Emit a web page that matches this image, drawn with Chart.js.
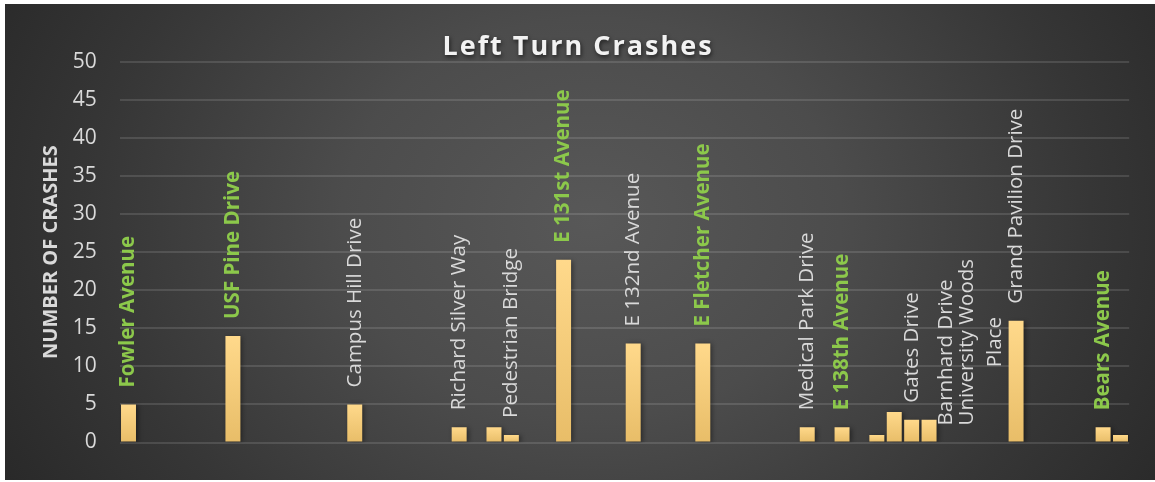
<!DOCTYPE html>
<html>
<head>
<meta charset="utf-8">
<script src="https://cdn.jsdelivr.net/npm/chart.js@4.4.1/dist/chart.umd.min.js"></script>
<style>
  html, body { margin: 0; padding: 0; background: #ffffff; }
  #box {
    position: absolute; left: 5px; top: 4px; width: 1150px; height: 476px;
    background: radial-gradient(ellipse 62% 120% at 51% 45%, #585858 0%, #4c4c4c 35%, #363636 70%, #262626 100%);
  }
</style>
</head>
<body>
<div id="box"><canvas id="bar-chart" width="1150" height="476"></canvas></div>
<script>
// one slot per position on the axis, "" / null where nothing is drawn
var calles = [
  "Fowler Avenue", "", "", "", "", "",
  "USF Pine Drive", "", "", "", "", "", "",
  "Campus Hill Drive", "", "", "", "", "",
  "Richard Silver Way", "", "", "Pedestrian Bridge", "", "",
  "E 131st Avenue", "", "", "",
  "E 132nd Avenue", "", "", "",
  "E Fletcher Avenue", "", "", "", "", "",
  "Medical Park Drive", "", "E 138th Avenue", "", "", "", "Gates Drive", "",
  "Barnhard Drive", "", ["University Woods", "Place"], "",
  "Grand Pavilion Drive", "", "", "", "",
  "Bears Avenue", ""
];
var choques = [
  5, null, null, null, null, null,
  14, null, null, null, null, null, null,
  5, null, null, null, null, null,
  2, null, 2, 1, null, null,
  24, null, null, null,
  13, null, null, null,
  13, null, null, null, null, null,
  2, null, 2, null, 1, 4, 3, 3,
  0, null, 0, null,
  16, null, null, null, null,
  2, 1
];
var destacadas = ["Fowler Avenue", "USF Pine Drive", "E 131st Avenue",
  "E Fletcher Avenue", "E 138th Avenue", "Bears Avenue"];
var titulo = "Left Turn Crashes";
var tituloEje = "NUMBER OF CRASHES";

var verde = "#8cc84b";
var gris = "#d9d9d9";

var tituloPlugin = {
  id: "tituloPlugin",
  afterDraw: function (chart) {
    var c = chart.ctx;
    c.save();
    c.font = "bold 27px 'Open Sans'";
    c.letterSpacing = "2px";
    c.fillStyle = "#f2f2f2";
    c.textAlign = "center";
    c.textBaseline = "alphabetic";
    c.shadowColor = "rgba(0,0,0,0.6)";
    c.shadowBlur = 4;
    c.shadowOffsetX = 1;
    c.shadowOffsetY = 2;
    c.fillText(titulo, 573, 51);
    c.restore();
  }
};

var sombraPlugin = {
  id: "sombraPlugin",
  beforeDatasetDraw: function (chart) {
    var c = chart.ctx;
    c.save();
    c.shadowColor = "rgba(0,0,0,0.45)";
    c.shadowBlur = 5;
    c.shadowOffsetX = 2;
    c.shadowOffsetY = 1;
  },
  afterDatasetDraw: function (chart) {
    chart.ctx.restore();
  }
};

var etiquetasPlugin = {
  id: "etiquetasPlugin",
  afterDatasetsDraw: function (chart) {
    var c = chart.ctx;
    var meta = chart.getDatasetMeta(0);
    calles.forEach(function (nombre, i) {
      if (!nombre || nombre.length === 0 || choques[i] === null) return;
      var barra = meta.data[i];
      var lineas = Array.isArray(nombre) ? nombre : [nombre];
      var plano = lineas.join(" ");
      var resaltar = destacadas.indexOf(plano) >= 0;
      c.save();
      c.font = (resaltar ? "bold " : "") + "20.5px 'Open Sans'";
      c.fillStyle = resaltar ? verde : gris;
      c.textAlign = "center";
      c.textBaseline = "middle";
      var ancho = 0;
      lineas.forEach(function (l) { ancho = Math.max(ancho, c.measureText(l).width); });
      c.translate(barra.x, barra.y - 17);
      c.rotate(-Math.PI / 2);
      lineas.forEach(function (l, j) {
        c.fillText(l, ancho / 2, (j - (lineas.length - 1) / 2) * 28);
      });
      c.restore();
    });
  }
};

var ctx = document.getElementById("bar-chart");
var myBarChart = new Chart(ctx, {
  type: "bar",
  data: {
    labels: calles.map(function (n, i) { return "c" + i; }),
    datasets: [
      {
        label: "Left turn crashes",
        data: choques,
        barPercentage: 0.86,
        categoryPercentage: 1.0,
        backgroundColor: function (context) {
          var chart = context.chart;
          if (!chart.chartArea || context.raw === null || context.raw === undefined) return "#f5cd7a";
          var y = chart.scales.y;
          var g = chart.ctx.createLinearGradient(0, y.getPixelForValue(context.raw), 0, y.getPixelForValue(0));
          g.addColorStop(0, "#ffd98b");
          g.addColorStop(1, "#e8bd68");
          return g;
        },
        borderWidth: 0
      }
    ]
  },
  options: {
    responsive: false,
    animation: false,
    layout: { padding: { left: 0, right: 25.8, top: 57.7, bottom: 37.5 } },
    plugins: {
      legend: { display: false },
      tooltip: { enabled: false },
      title: { display: false }
    },
    scales: {
      x: {
        ticks: { display: false },
        grid: { display: false },
        border: { display: false },
        afterFit: function (s) { s.height = 0; }
      },
      y: {
        min: 0,
        max: 50,
        ticks: {
          stepSize: 5,
          color: gris,
          padding: 23,
          font: { family: "'Open Sans'", size: 21 }
        },
        grid: { color: "rgba(255,255,255,0.12)", lineWidth: 2, drawTicks: false },
        border: { display: false },
        title: {
          display: true,
          text: tituloEje,
          color: gris,
          font: { family: "'Open Sans'", size: 20, weight: "bold" },
          padding: { top: 34, bottom: 0 }
        },
        afterFit: function (s) { s.width = 114.8; }
      }
    }
  },
  plugins: [sombraPlugin, etiquetasPlugin, tituloPlugin]
});
</script>
</body>
</html>
